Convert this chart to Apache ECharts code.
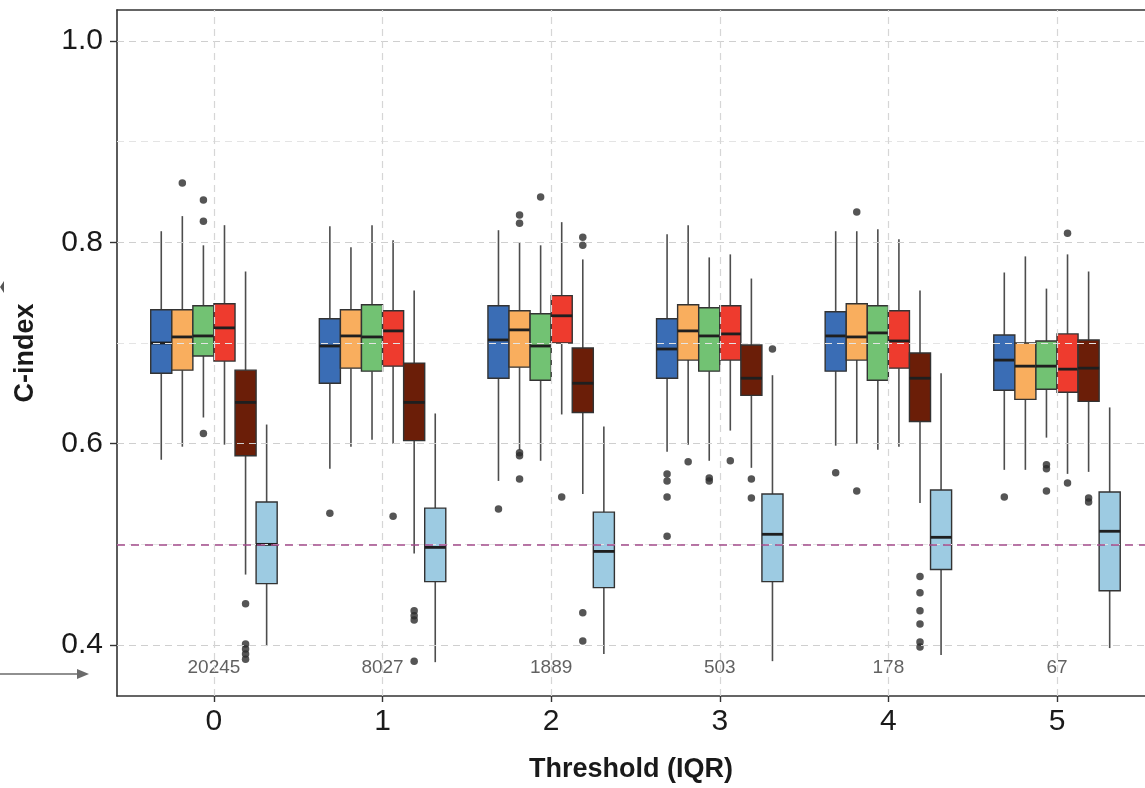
<!DOCTYPE html>
<html>
<head>
<meta charset="utf-8">
<script src="https://cdn.jsdelivr.net/npm/echarts@6/dist/echarts.min.js"></script>
<style>
html, body { margin: 0; padding: 0; background: #fff; }
#chart { width: 1145px; height: 788px; }
</style>
</head>
<body>
<div id="chart"></div>
<script>
var thresholds = [0, 1, 2, 3, 4, 5];
var counts = ['20245', '8027', '1889', '503', '178', '67'];
var boxColors = ['#3A6DB5', '#F9AE5E', '#72C273', '#EE3B2E', '#6B1E08', '#9DCBE2'];

// one row per threshold: [lower whisker, q1, median, q3, upper whisker]
var blueBox = [[0.584, 0.670, 0.700, 0.733, 0.811], [0.575, 0.660, 0.697, 0.724, 0.816], [0.563, 0.665, 0.703, 0.737, 0.812],
  [0.592, 0.665, 0.694, 0.724, 0.808], [0.598, 0.672, 0.707, 0.731, 0.811], [0.574, 0.653, 0.683, 0.708, 0.770]];
var orangeBox = [[0.597, 0.673, 0.706, 0.733, 0.826], [0.597, 0.675, 0.707, 0.733, 0.795], [0.594, 0.676, 0.713, 0.732, 0.800],
  [0.599, 0.683, 0.712, 0.738, 0.817], [0.600, 0.683, 0.706, 0.739, 0.811], [0.574, 0.644, 0.677, 0.700, 0.786]];
var greenBox = [[0.626, 0.687, 0.707, 0.737, 0.797], [0.604, 0.672, 0.706, 0.738, 0.817], [0.583, 0.663, 0.697, 0.729, 0.797],
  [0.583, 0.672, 0.707, 0.735, 0.785], [0.594, 0.663, 0.710, 0.737, 0.813], [0.606, 0.654, 0.677, 0.702, 0.754]];
var redBox = [[0.599, 0.682, 0.715, 0.739, 0.817], [0.600, 0.677, 0.712, 0.732, 0.802], [0.629, 0.700, 0.727, 0.747, 0.820],
  [0.613, 0.683, 0.709, 0.737, 0.788], [0.597, 0.675, 0.702, 0.732, 0.803], [0.570, 0.651, 0.674, 0.709, 0.788]];
var brownBox = [[0.470, 0.588, 0.641, 0.673, 0.771], [0.491, 0.603, 0.641, 0.680, 0.752], [0.550, 0.631, 0.660, 0.695, 0.783],
  [0.576, 0.648, 0.665, 0.698, 0.764], [0.541, 0.622, 0.665, 0.690, 0.752], [0.572, 0.642, 0.675, 0.703, 0.771]];
var lightBox = [[0.399, 0.461, 0.500, 0.542, 0.619], [0.383, 0.463, 0.497, 0.536, 0.630], [0.391, 0.457, 0.493, 0.532, 0.617],
  [0.384, 0.463, 0.510, 0.550, 0.668], [0.390, 0.475, 0.507, 0.554, 0.670], [0.397, 0.454, 0.513, 0.552, 0.636]];

// outliers: [threshold index, value]
var blueOut = [[1, 0.531], [2, 0.535], [3, 0.570], [3, 0.563], [3, 0.547], [3, 0.508], [4, 0.571], [5, 0.547]];
var orangeOut = [[0, 0.859], [2, 0.827], [2, 0.819], [2, 0.591], [2, 0.588], [2, 0.565], [3, 0.582], [4, 0.830], [4, 0.553]];
var greenOut = [[0, 0.842], [0, 0.821], [0, 0.610], [2, 0.845], [3, 0.566], [3, 0.563], [5, 0.579], [5, 0.575], [5, 0.553]];
var redOut = [[1, 0.528], [2, 0.547], [3, 0.583], [5, 0.809], [5, 0.561]];
var brownOut = [[0, 0.441], [0, 0.401], [0, 0.396], [0, 0.391], [0, 0.386], [1, 0.434], [1, 0.429], [1, 0.425], [1, 0.384],
  [2, 0.805], [2, 0.797], [2, 0.432], [2, 0.404], [3, 0.565], [3, 0.546], [4, 0.468], [4, 0.452], [4, 0.434], [4, 0.421],
  [4, 0.403], [4, 0.398], [5, 0.546], [5, 0.542]];
var lightOut = [[3, 0.694]];

var yLabels = [0.4, 0.6, 0.8, 1.0];
var gridMinor = [0.5, 0.7, 0.9];
var refLine = 0.5;
var countY = 0.377;

var allBoxes = [blueBox, orangeBox, greenBox, redBox, brownBox, lightBox];
var allOut = [blueOut, orangeOut, greenOut, redOut, brownOut, lightOut];
var dodge = 0.125;
var font = 'Liberation Sans, Arial, sans-serif';
var xMin = -0.575, xMax = 5.522;

var chart = echarts.init(document.getElementById('chart'));

function renderBox(params, api) {
  var x = api.value(0);
  var lo = api.coord([x, api.value(1)]);
  var q1 = api.coord([x, api.value(2)]);
  var md = api.coord([x, api.value(3)]);
  var q3 = api.coord([x, api.value(4)]);
  var hi = api.coord([x, api.value(5)]);
  var w = api.size([dodge, 0])[0];
  var cx = lo[0];
  return {
    type: 'group',
    children: [
      { type: 'line', shape: { x1: cx, y1: hi[1], x2: cx, y2: q3[1] }, style: { stroke: '#4d4d4d', lineWidth: 1.6 } },
      { type: 'line', shape: { x1: cx, y1: q1[1], x2: cx, y2: lo[1] }, style: { stroke: '#4d4d4d', lineWidth: 1.6 } },
      { type: 'rect', shape: { x: cx - w / 2, y: q3[1], width: w, height: q1[1] - q3[1] },
        style: { fill: api.visual('color'), stroke: '#333', lineWidth: 1.4 } },
      { type: 'line', shape: { x1: cx - w / 2, y1: md[1], x2: cx + w / 2, y2: md[1] }, style: { stroke: '#1f1f1f', lineWidth: 2.8 } }
    ]
  };
}

var series = [];

var gridLines = [];
yLabels.forEach(function (v) { gridLines.push({ yAxis: v, lineStyle: { color: '#cfcfcf' } }); });
gridMinor.forEach(function (v) { gridLines.push({ yAxis: v, lineStyle: { color: '#e4e4e4' } }); });
thresholds.forEach(function (t) { gridLines.push({ xAxis: t, lineStyle: { color: '#d6d6d6' } }); });

series.push({
  type: 'scatter',
  z: 1,
  symbolSize: 0,
  silent: true,
  data: counts.map(function (c, i) { return [thresholds[i], countY, c]; }),
  label: {
    show: true,
    position: 'inside',
    formatter: function (p) { return p.data[2]; },
    fontSize: 19,
    color: '#3a3a3a',
    fontFamily: font
  },
  markLine: {
    silent: true,
    symbol: 'none',
    label: { show: false },
    lineStyle: { type: [7, 5], width: 1.2 },
    data: gridLines
  }
});

allBoxes.forEach(function (boxes, k) {
  var off = (k - 2.5) * dodge;
  series.push({
    type: 'custom',
    z: 3,
    itemStyle: { color: boxColors[k] },
    renderItem: renderBox,
    encode: { x: 0, y: [1, 2, 3, 4, 5] },
    data: boxes.map(function (b, i) { return [thresholds[i] + off].concat(b); })
  });
  series.push({
    type: 'scatter',
    z: 4,
    symbolSize: 7.5,
    itemStyle: { color: '#2b2b2b' },
    data: allOut[k].map(function (o) { return [thresholds[o[0]] + off, o[1]]; })
  });
});

series.push({
  type: 'line',
  z: 5,
  data: [],
  markLine: {
    silent: true,
    symbol: 'none',
    label: { show: false },
    lineStyle: { color: '#A24B8A', type: [8, 6], width: 1.6 },
    data: [{ yAxis: refLine }]
  }
});

var option = {
  animation: false,
  backgroundColor: '#fff',
  textStyle: { fontFamily: font },
  grid: { left: 117, top: 10, right: 0, bottom: 91, show: false },
  xAxis: [{
    type: 'value',
    min: xMin,
    max: xMax,
    name: 'Threshold (IQR)',
    nameLocation: 'middle',
    nameGap: 60,
    nameTextStyle: { fontSize: 27, fontWeight: 'bold', color: '#1a1a1a', fontFamily: font },
    axisLine: { show: true, onZero: false, lineStyle: { color: '#333', width: 1.6 } },
    axisTick: { show: true, length: 6, customValues: thresholds, lineStyle: { color: '#333', width: 1.4 } },
    axisLabel: { customValues: thresholds, fontSize: 30, color: '#1a1a1a', margin: 11, fontFamily: font },
    splitLine: { show: false }
  }, {
    type: 'value',
    position: 'top',
    min: xMin,
    max: xMax,
    axisLine: { show: true, onZero: false, lineStyle: { color: '#333', width: 1.6 } },
    axisTick: { show: false },
    axisLabel: { show: false },
    splitLine: { show: false }
  }],
  yAxis: {
    type: 'value',
    min: 0.3494,
    max: 1.0307,
    name: 'C-index',
    nameLocation: 'middle',
    nameGap: 78,
    nameRotate: 90,
    nameTextStyle: { fontSize: 27, fontWeight: 'bold', color: '#1a1a1a', fontFamily: font },
    axisLine: { show: true, onZero: false, lineStyle: { color: '#333', width: 1.6 } },
    axisTick: { show: true, length: 7, customValues: yLabels, lineStyle: { color: '#333', width: 1.4 } },
    axisLabel: {
      customValues: yLabels, fontSize: 30, color: '#1a1a1a', margin: 14, fontFamily: font,
      formatter: function (v) { return v.toFixed(1); }
    },
    splitLine: { show: false }
  },
  graphic: [
    { type: 'line', shape: { x1: 0, y1: 674, x2: 80, y2: 674 }, style: { stroke: '#6b6b6b', lineWidth: 1.6 } },
    { type: 'polygon', shape: { points: [[89, 674], [77, 669], [77, 679]] }, style: { fill: '#6b6b6b' } },
    { type: 'polygon', shape: { points: [[0, 287], [4, 281], [4, 293]] }, style: { fill: '#555' } }
  ],
  series: series
};

option && chart.setOption(option);
</script>
</body>
</html>
